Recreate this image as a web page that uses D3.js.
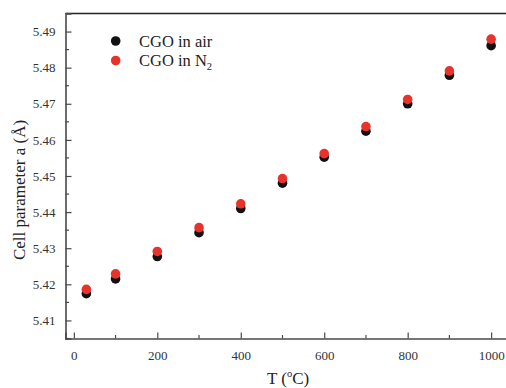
<!DOCTYPE html>
<html>
<head>
<meta charset="utf-8">
<script src="https://cdn.jsdelivr.net/npm/d3@7"></script>
<style>
	body { margin: 0; background: #fff; }
	svg text { font-family: "Liberation Serif", "DejaVu Serif", serif; }
</style>
</head>
<body>
<div id="chart"></div>
<script>
var temps = [30, 100, 200, 300, 400, 500, 600, 700, 800, 900, 1000];
var airValues = [5.4174, 5.4215, 5.4277, 5.4343, 5.4410, 5.4480, 5.4552, 5.4624, 5.4700, 5.4779, 5.4861];
var n2Values = [5.4186, 5.4229, 5.4291, 5.4357, 5.4423, 5.4493, 5.4562, 5.4637, 5.4712, 5.4791, 5.4879];
var xTicks = [0, 200, 400, 600, 800, 1000];
var yTicks = [5.41, 5.42, 5.43, 5.44, 5.45, 5.46, 5.47, 5.48, 5.49];

var w = 506, h = 388;
var margin = {left: 65.5, top: 13.5, right: -6, bottom: 49.5};

var svg = d3.select("#chart").append("svg")
	.attr("width", w)
	.attr("height", h);

var x = d3.scaleLinear().domain([-20, 1050]).range([margin.left, w - margin.right]);
var y = d3.scaleLinear().domain([5.405, 5.495]).range([h - margin.bottom, margin.top]);

var axisColor = "#4a4a4a";

// frame: top line
svg.append("line")
	.attr("x1", margin.left).attr("x2", w)
	.attr("y1", margin.top).attr("y2", margin.top)
	.attr("stroke", "#222").attr("stroke-width", 1.5);

// x axis, ticks pointing inward
var xAxis = svg.append("g")
	.attr("transform", "translate(0," + (h - margin.bottom) + ")")
	.call(d3.axisBottom(x).tickValues(xTicks).tickSize(-6).tickPadding(12).tickFormat(d3.format("d")));
xAxis.append("g").selectAll("line")
	.data(d3.range(100, 1001, 200))
	.enter().append("line")
	.attr("x1", function(d){ return x(d); })
	.attr("x2", function(d){ return x(d); })
	.attr("y1", 0).attr("y2", -3.5);

var yAxis = svg.append("g")
	.attr("transform", "translate(" + margin.left + ",0)")
	.call(d3.axisLeft(y).tickValues(yTicks).tickSize(-6).tickPadding(10).tickFormat(d3.format(".2f")));
yAxis.append("g").selectAll("line")
	.data(d3.range(5.405, 5.4951, 0.01))
	.enter().append("line")
	.attr("y1", function(d){ return y(d); })
	.attr("y2", function(d){ return y(d); })
	.attr("x1", 0).attr("x2", 3.5);

[xAxis, yAxis].forEach(function(a){
	a.select(".domain").attr("stroke", axisColor).attr("stroke-width", 1.6);
	a.selectAll("line").attr("stroke", axisColor).attr("stroke-width", 1.2);
	a.selectAll("text").attr("fill", "#333").style("font-size", "13px")
		.style("font-family", "'Liberation Serif', serif");
});

// points
var series = [
	{name: "air", values: airValues, color: "#111111"},
	{name: "n2", values: n2Values, color: "#e8322c"}
];
series.forEach(function(s){
	svg.append("g").selectAll("circle")
		.data(temps)
		.enter().append("circle")
		.attr("cx", function(d){ return x(d); })
		.attr("cy", function(d, i){ return y(s.values[i]); })
		.attr("r", 4.8)
		.attr("fill", s.color);
});

// legend
var legend = svg.append("g");
legend.append("circle").attr("cx", 115.7).attr("cy", 41).attr("r", 4.8).attr("fill", "#111111");
legend.append("circle").attr("cx", 115.7).attr("cy", 60.5).attr("r", 4.8).attr("fill", "#e8322c");
legend.append("text").attr("x", 139).attr("y", 46.5)
	.attr("fill", "#222").style("font-size", "16.5px").text("CGO in air");
var n2 = legend.append("text").attr("x", 139).attr("y", 66)
	.attr("fill", "#222").style("font-size", "16.5px");
n2.append("tspan").text("CGO in N");
n2.append("tspan").attr("dy", 4).style("font-size", "10.5px").text("2");

// axis titles
var xt = svg.append("text")
	.attr("x", 288).attr("y", 384)
	.attr("text-anchor", "middle")
	.attr("fill", "#222").style("font-size", "17px");
xt.append("tspan").text("T (");
xt.append("tspan").attr("dy", -7).style("font-size", "10.5px").text("o");
xt.append("tspan").attr("dy", 7).text("C)");

svg.append("text")
	.attr("transform", "translate(25,190) rotate(-90)")
	.attr("text-anchor", "middle")
	.attr("fill", "#222").style("font-size", "17px")
	.text("Cell parameter a (Å)");
</script>
</body>
</html>
